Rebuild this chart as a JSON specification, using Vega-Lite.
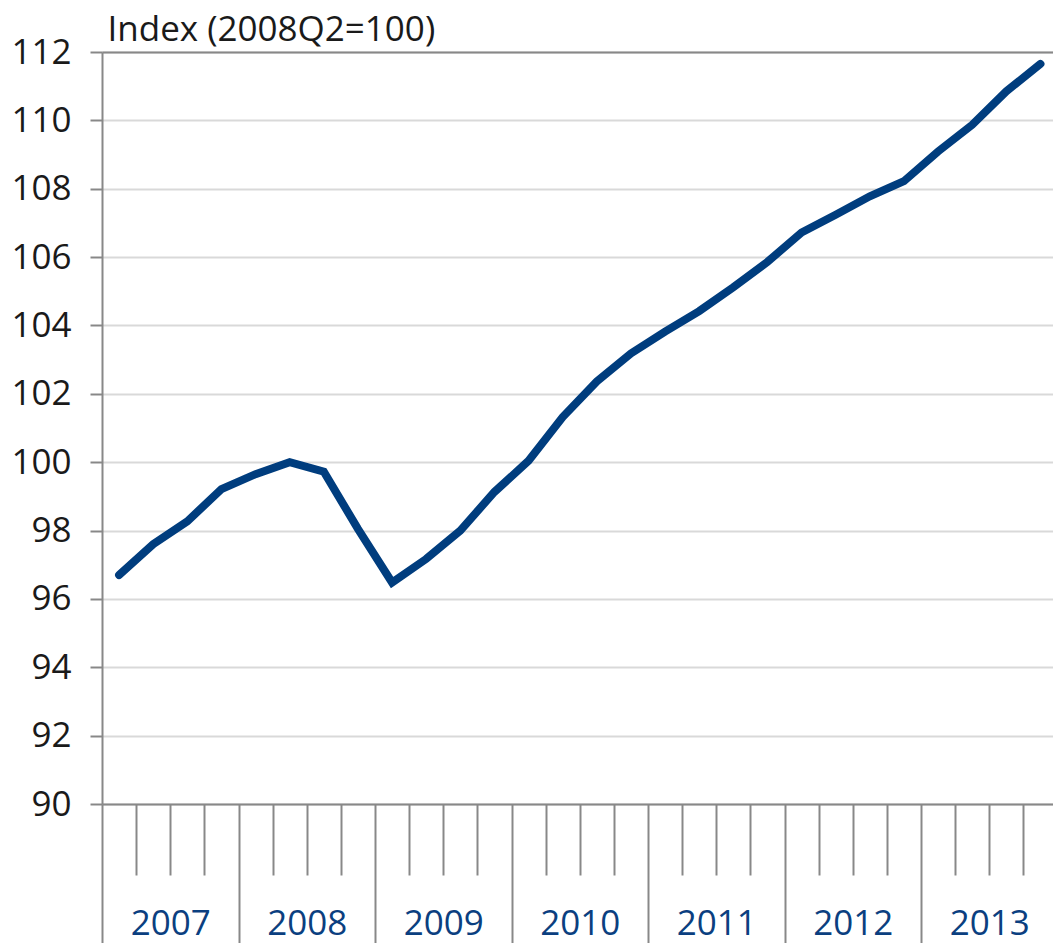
{
  "$schema": "https://vega.github.io/schema/vega-lite/v6.json",
  "autosize": "none",
  "padding": {"left": 102, "top": 52, "right": 0, "bottom": 139},
  "width": 951,
  "height": 752,
  "background": "white",
  "config": {
    "view": {"stroke": null},
    "font": "Open Sans",
    "axis": {"labelFont": "Open Sans", "titleFont": "Open Sans", "domainColor": "#888888", "tickColor": "#888888", "domainWidth": 2, "tickWidth": 2}
  },
  "data": {
    "values": [
      {"quarter": "2007Q1", "t": 2007.125, "index": 96.7},
      {"quarter": "2007Q2", "t": 2007.375, "index": 97.6},
      {"quarter": "2007Q3", "t": 2007.625, "index": 98.27},
      {"quarter": "2007Q4", "t": 2007.875, "index": 99.21},
      {"quarter": "2008Q1", "t": 2008.125, "index": 99.65},
      {"quarter": "2008Q2", "t": 2008.375, "index": 100.0},
      {"quarter": "2008Q3", "t": 2008.625, "index": 99.72},
      {"quarter": "2008Q4", "t": 2008.875, "index": 98.05},
      {"quarter": "2009Q1", "t": 2009.125, "index": 96.48},
      {"quarter": "2009Q2", "t": 2009.375, "index": 97.17},
      {"quarter": "2009Q3", "t": 2009.625, "index": 98.0},
      {"quarter": "2009Q4", "t": 2009.875, "index": 99.13},
      {"quarter": "2010Q1", "t": 2010.125, "index": 100.04},
      {"quarter": "2010Q2", "t": 2010.375, "index": 101.32},
      {"quarter": "2010Q3", "t": 2010.625, "index": 102.36},
      {"quarter": "2010Q4", "t": 2010.875, "index": 103.18},
      {"quarter": "2011Q1", "t": 2011.125, "index": 103.82},
      {"quarter": "2011Q2", "t": 2011.375, "index": 104.42},
      {"quarter": "2011Q3", "t": 2011.625, "index": 105.12},
      {"quarter": "2011Q4", "t": 2011.875, "index": 105.86},
      {"quarter": "2012Q1", "t": 2012.125, "index": 106.72},
      {"quarter": "2012Q2", "t": 2012.375, "index": 107.24},
      {"quarter": "2012Q3", "t": 2012.625, "index": 107.78},
      {"quarter": "2012Q4", "t": 2012.875, "index": 108.22},
      {"quarter": "2013Q1", "t": 2013.125, "index": 109.09},
      {"quarter": "2013Q2", "t": 2013.375, "index": 109.87},
      {"quarter": "2013Q3", "t": 2013.625, "index": 110.85},
      {"quarter": "2013Q4", "t": 2013.875, "index": 111.65}
    ]
  },
  "resolve": {"axis": {"x": "independent"}},
  "layer": [
    {
      "mark": {"type": "line", "color": "#003d7e", "strokeWidth": 8, "strokeCap": "round"},
      "encoding": {
        "x": {
          "field": "t", "type": "quantitative",
          "scale": {"domain": [2007, 2013.967], "nice": false, "zero": false},
          "axis": {
            "orient": "bottom", "title": null, "grid": false, "labels": false, "domain": true,
            "values": [2007.25, 2007.5, 2007.75, 2008.25, 2008.5, 2008.75, 2009.25, 2009.5, 2009.75, 2010.25, 2010.5, 2010.75, 2011.25, 2011.5, 2011.75, 2012.25, 2012.5, 2012.75, 2013.25, 2013.5, 2013.75],
            "tickSize": 71
          }
        },
        "y": {
          "field": "index", "type": "quantitative",
          "scale": {"domain": [90, 112], "nice": false, "zero": false},
          "axis": {
            "title": "Index (2008Q2=100)",
            "titleAngle": 0, "titleAlign": "left", "titleBaseline": "alphabetic",
            "titleX": 5, "titleY": -12, "titleFontSize": 35, "titleFontWeight": "normal", "titleColor": "#1a1a1a",
            "values": [90, 92, 94, 96, 98, 100, 102, 104, 106, 108, 110, 112],
            "tickSize": 12, "labelPadding": 19, "labelFontSize": 35, "labelColor": "#1a1a1a",
            "grid": true, "gridColor": "#d9d9d9", "gridWidth": 2
          }
        }
      }
    },
    {
      "mark": {"type": "point", "opacity": 0},
      "encoding": {
        "x": {
          "field": "t", "type": "quantitative",
          "axis": {
            "orient": "bottom", "title": null, "grid": false, "labels": false, "domain": false,
            "values": [2007, 2008, 2009, 2010, 2011, 2012, 2013],
            "tickSize": 139
          }
        },
        "y": {"field": "index", "type": "quantitative"}
      }
    },
    {
      "mark": {"type": "point", "opacity": 0},
      "encoding": {
        "x": {
          "field": "t", "type": "quantitative",
          "axis": {
            "orient": "bottom", "title": null, "grid": false, "domain": false, "ticks": false, "tickSize": 0,
            "values": [2007.5, 2008.5, 2009.5, 2010.5, 2011.5, 2012.5, 2013.5],
            "labelExpr": "floor(datum.value)",
            "labelFontSize": 35, "labelColor": "#0b3f80", "labelBaseline": "alphabetic", "labelPadding": 130,
            "labelFlush": false, "labelOverlap": false
          }
        },
        "y": {"field": "index", "type": "quantitative"}
      }
    },
    {
      "mark": {"type": "point", "opacity": 0},
      "encoding": {
        "x": {
          "field": "t", "type": "quantitative",
          "axis": {"orient": "top", "title": null, "grid": false, "labels": false, "ticks": false, "domain": true}
        },
        "y": {"field": "index", "type": "quantitative"}
      }
    }
  ]
}
